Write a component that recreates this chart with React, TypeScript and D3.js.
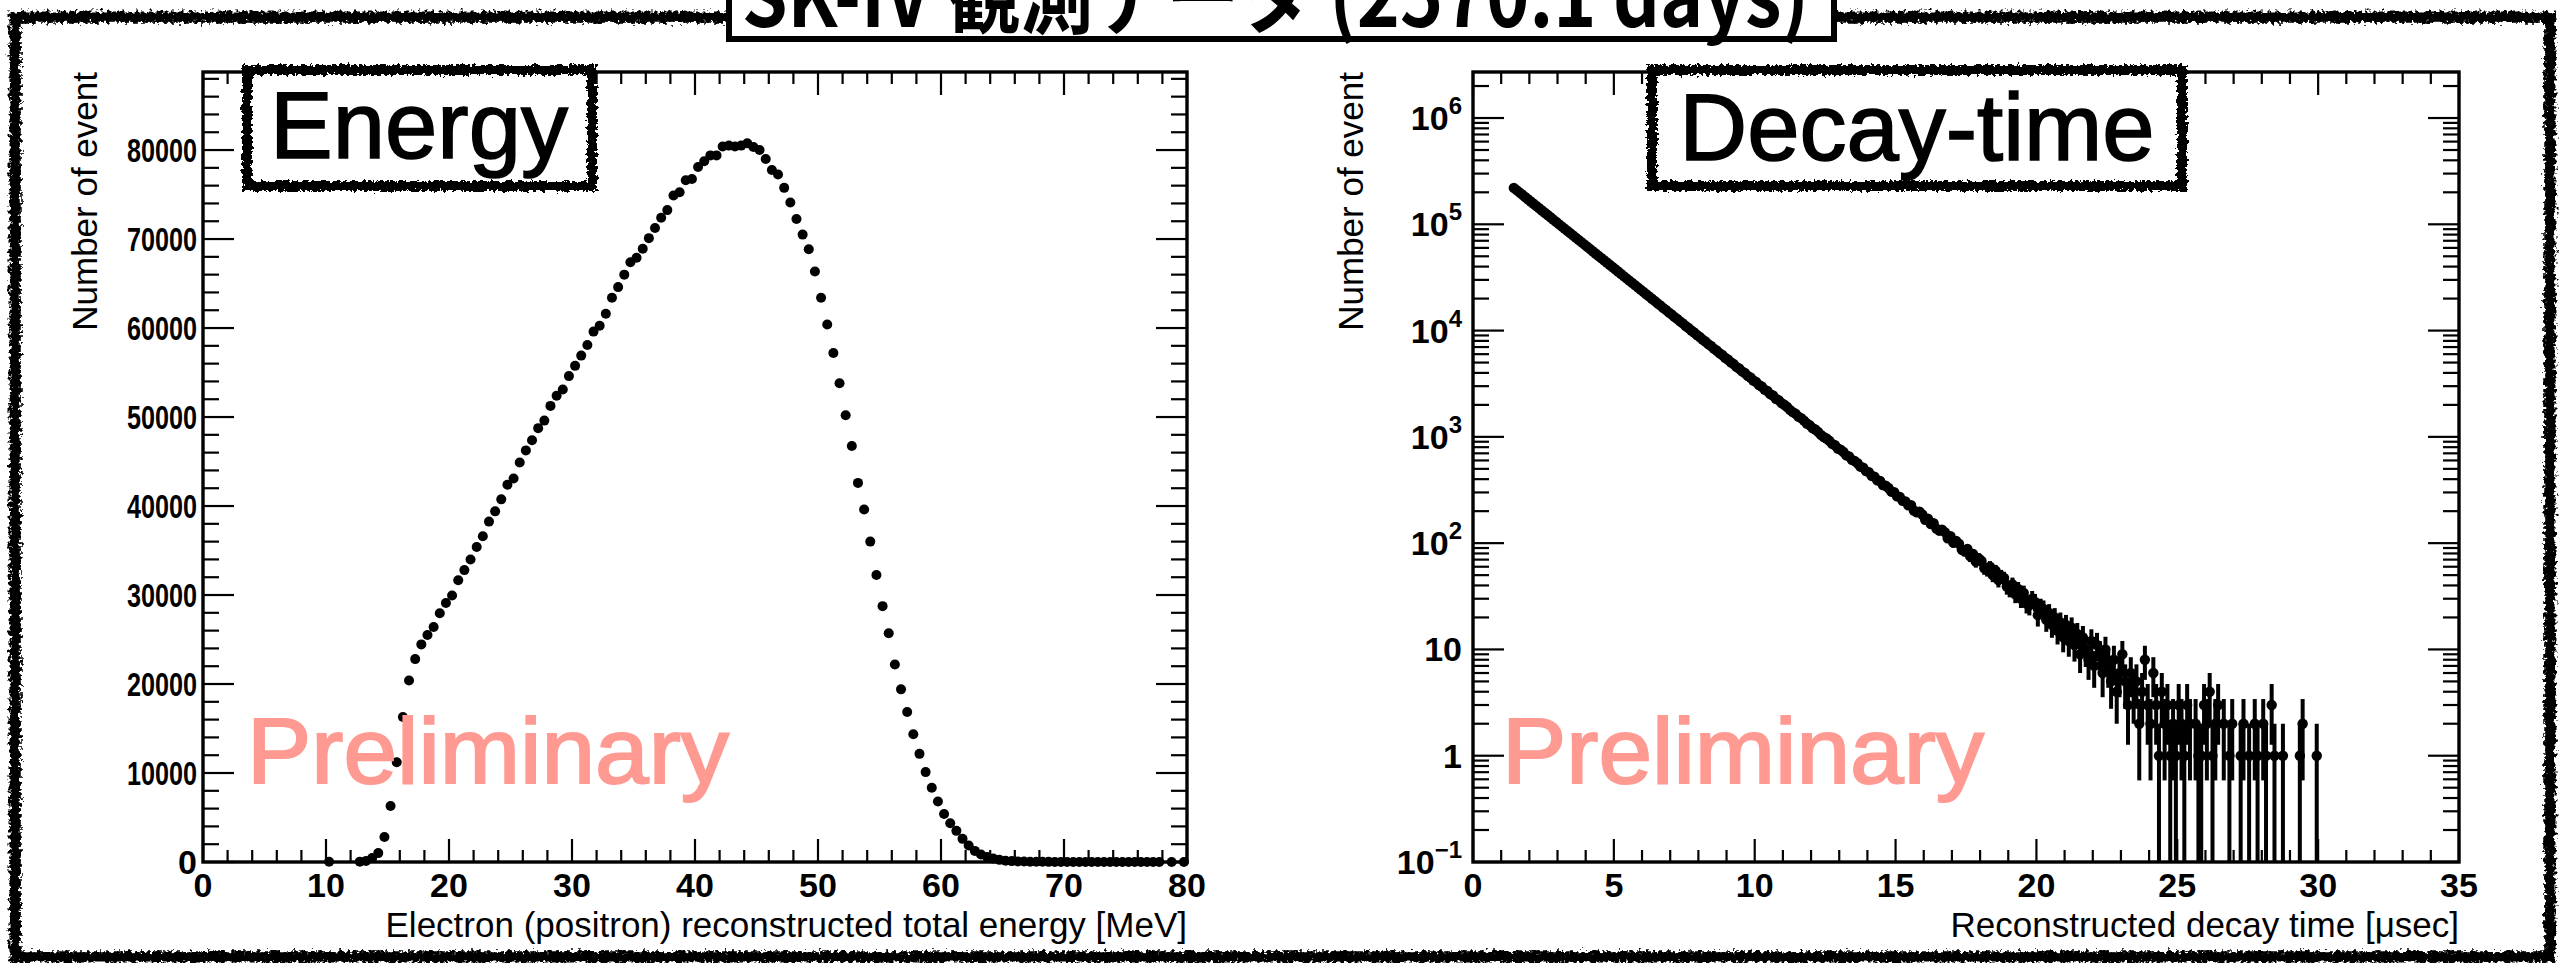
import React from 'react';
import * as d3 from 'd3';

const W = 2566;
const H = 963;
const SANS = '"Liberation Sans", Arial, Helvetica, sans-serif';

const pageTitle = 'SK-IV 観測データ (2570.1 days)';
const watermark = 'Preliminary';
const yTitle = 'Number of event';

// energy histogram, 0.5 MeV bins, first filled bin centred at 10.25 MeV
const energyFirstCentre = 10.25;
const energyBinWidth = 0.5;
const energyCounts = [
  25, 0, 0, 0, 0, 40, 120, 450, 1000, 2800, 6300, 11200,
  16300, 20400, 22800, 24450, 25500, 26400, 27950, 29100, 29950, 31650,
  32800, 34000, 35400, 36600, 38250, 39400, 40750, 42400, 43100, 44900,
  46250, 47400, 48750, 49600, 51250, 52400, 53100, 54600, 55750, 56900,
  58100, 59600, 60250, 61600, 63400, 64600, 66000, 67400, 67900, 68900,
  70100, 71250, 72400, 73250, 74900, 75250, 76600, 76750, 78100, 78750,
  79400, 79400, 80400, 80500, 80400, 80500, 80750, 80350, 80000, 79000,
  77750, 77250, 75750, 74100, 72250, 70500, 68850, 66350, 63400, 60400,
  57200, 53800, 50200, 46750, 42600, 39600, 36000, 32250, 28750, 25700,
  22200, 19400, 16850, 14350, 12150, 10100, 8350, 6800, 5400, 4350,
  3500, 2600, 1850, 1250, 850, 560, 380, 240, 150, 100,
  70, 50, 35, 25, 20, 15, 12, 10, 8, 6,
  5, 4, 4, 3, 3, 2, 2, 2, 1, 1,
  1, 1, 1, 1, 0, 1, 0, 1,
];
const energyXTicks = [0, 10, 20, 30, 40, 50, 60, 70, 80];
const energyYTicks = [0, 10000, 20000, 30000, 40000, 50000, 60000, 70000, 80000];
const energyXTitle = 'Electron (positron) reconstructed total energy [MeV]';
const energyBoxLabel = 'Energy';

// decay-time histogram, 0.1 usec bins, first bin centred at 1.45 usec
const decayFirstCentre = 1.45;
const decayBinWidth = 0.1;
const decayCounts = [
  220000, 209480, 199470, 189930, 180860, 172220, 163990, 156130, 148680, 141570,
  134820, 128350, 122230, 116380, 110810, 105510, 100470, 95680, 91100, 86750,
  82590, 78650, 74890, 71300, 67890, 64660, 61560, 58630, 55810, 53150,
  50600, 48180, 45890, 43690, 41600, 39620, 37730, 35930, 34210, 32560,
  31020, 29520, 28120, 26770, 25500, 24270, 23100,
  21970, 20990, 19910, 19040, 18050, 17260, 16370, 15650, 14830, 14190,
  13450, 12870, 12190, 11680, 11040, 10580, 10020, 9601, 9078, 8702,
  8231, 7890, 7461, 7158, 6760, 6490, 6128, 5889, 5552, 5342,
  5031, 4845, 4560, 4395, 4131, 3990, 3745, 3620, 3393, 3281,
  3075, 2979, 2785, 2702, 2523, 2451, 2285,
  2215, 2080, 2004, 1912, 1795, 1710, 1652, 1548, 1499, 1422,
  1335, 1290, 1210, 1172, 1115, 1044, 996, 966, 918, 859,
  833, 778, 757, 721, 670, 655, 608, 592, 565, 524,
  513, 476, 466, 430, 421, 391, 384, 352, 347, 330,
  305, 301, 276, 272, 250, 247, 227,
  228, 203, 195, 198, 186, 166, 170, 151, 154, 137,
  131, 134, 127, 111, 116, 101, 105, 99, 87, 84,
  88, 75, 79, 67, 72, 68, 58, 56, 60, 50,
  55, 45, 49, 47, 39, 37, 41, 33, 37, 30,
  34, 27, 26, 30, 28, 21, 25,
  24, 19, 22, 17, 20, 15, 18, 13, 17, 12,
  16, 11, 14, 9, 13, 10, 8, 12, 7, 11,
  9, 6, 10, 7, 5, 8, 4, 6, 9, 5,
  3, 6, 4, 5, 2, 4, 8, 3, 2, 6,
  3, 1, 4, 2, 3, 1, 2,
  1, 3, 2, 1, 3, 2, 0, 2, 1, 1,
  3, 2, 4, 1, 2, 3, 0, 2, 0, 1,
  2, 0, 0, 1, 2, 0, 1, 0, 2, 1,
  0, 2, 1, 0, 3, 1, 0, 0, 1, 0,
  0, 0, 0, 0, 1, 2, 0, 0, 0, 0,
  1, 0,
];
const decayXTicks = [0, 5, 10, 15, 20, 25, 30, 35];
const decayYTicks = [
  { v: 0.1, base: '10', exp: '−1' },
  { v: 1, base: '1', exp: '' },
  { v: 10, base: '10', exp: '' },
  { v: 100, base: '10', exp: '2' },
  { v: 1000, base: '10', exp: '3' },
  { v: 10000, base: '10', exp: '4' },
  { v: 100000, base: '10', exp: '5' },
  { v: 1000000, base: '10', exp: '6' },
];
const decayXTitle = 'Reconstructed decay time [μsec]';
const decayBoxLabel = 'Decay-time';

const FRAME_TOP = 72;
const FRAME_BOTTOM = 862;

const ex = d3.scaleLinear().domain([0, 80]).range([203, 1187]);
const ey = d3.scaleLinear().domain([0, 88770]).range([FRAME_BOTTOM, FRAME_TOP]);
const tx = d3.scaleLinear().domain([0, 35]).range([1473, 2459]);
const ty = d3.scaleLog().domain([0.1, 2.71e6]).range([FRAME_BOTTOM, FRAME_TOP]);

function FrameTicks({ xs, ys, xMajor, xMinor, yMajor, yMinor }: any) {
  const [x0, x1] = xs.range();
  const [y0, y1] = ys.range();
  const lines: any[] = [];
  const xt = (v: number, len: number, k: string) => {
    const x = xs(v);
    lines.push(<line key={'xb' + k} x1={x} x2={x} y1={y0} y2={y0 - len} />);
    lines.push(<line key={'xt' + k} x1={x} x2={x} y1={y1} y2={y1 + len} />);
  };
  const yt = (v: number, len: number, k: string) => {
    const y = ys(v);
    lines.push(<line key={'yl' + k} x1={x0} x2={x0 + len} y1={y} y2={y} />);
    lines.push(<line key={'yr' + k} x1={x1} x2={x1 - len} y1={y} y2={y} />);
  };
  xMajor.forEach((v: number, i: number) => xt(v, 23, 'M' + i));
  xMinor.forEach((v: number, i: number) => xt(v, 12, 'm' + i));
  yMajor.forEach((v: number, i: number) => yt(v, 31, 'M' + i));
  yMinor.forEach((v: number, i: number) => yt(v, 16, 'm' + i));
  return (
    <g stroke="#000" strokeWidth={2.2}>
      {lines}
      <rect x={x0} y={y1} width={x1 - x0} height={y0 - y1} fill="none" strokeWidth={3.4} />
    </g>
  );
}

function RoughBox({ x, y, w, h }: any) {
  return (
    <g>
      <rect x={x} y={y} width={w} height={h} fill="#fff" />
      <g filter="url(#rough2)" fill="none" stroke="#000">
        <rect x={x} y={y} width={w} height={h} strokeWidth={10} />
        <rect x={x + 3} y={y + 3} width={w - 6} height={h - 6} strokeWidth={3} />
      </g>
    </g>
  );
}

export default function App() {
  const eMinor = d3.range(0, 81, 2).filter((v) => v % 10 !== 0);
  const eYMinor = d3.range(0, 88001, 2000).filter((v) => v % 10000 !== 0);
  const tMinor = d3.range(0, 36, 1).filter((v) => v % 5 !== 0);
  const tYMinor: number[] = [];
  for (let d = -1; d <= 6; d++) {
    for (let m = 2; m <= 9; m++) {
      const v = m * Math.pow(10, d);
      if (v <= 2.71e6) tYMinor.push(v);
    }
  }

  const energyPoints = energyCounts
    .map((c, i) => ({ x: energyFirstCentre + i * energyBinWidth, c }))
    .filter((p) => p.c > 0);
  const decayPoints = decayCounts
    .map((c, i) => ({ x: decayFirstCentre + i * decayBinWidth, c }))
    .filter((p) => p.c > 0);

  const labelStyle = { fontFamily: SANS, fontWeight: 700, fontSize: 34 } as const;
  const titleStyle = { fontFamily: SANS, fontSize: 35 } as const;
  const boxText = { fontFamily: SANS, fontSize: 94 } as const;
  const markStyle = { fontFamily: SANS, fontSize: 92 } as const;

  return (
    <div style={{ position: 'absolute', left: 0, top: 0, width: W, height: H, background: '#fff' }}>
      <svg width={W} height={H} viewBox={`0 0 ${W} ${H}`}>
        <defs>
          <filter id="rough1" x="-2%" y="-2%" width="104%" height="104%">
            <feTurbulence type="fractalNoise" baseFrequency="0.28" numOctaves="3" seed="4" result="n" />
            <feDisplacementMap in="SourceGraphic" in2="n" scale="10" xChannelSelector="R" yChannelSelector="G" />
          </filter>
          <filter id="rough2" x="-5%" y="-10%" width="110%" height="120%">
            <feTurbulence type="fractalNoise" baseFrequency="0.3" numOctaves="3" seed="11" result="n" />
            <feDisplacementMap in="SourceGraphic" in2="n" scale="8" xChannelSelector="R" yChannelSelector="G" />
          </filter>
        </defs>
        <rect width={W} height={H} fill="#fff" />

        {/* outer sketchy border */}
        <g filter="url(#rough1)" fill="none" stroke="#000">
          <rect x={15} y={17} width={2535} height={940} strokeWidth={11} />
          <rect x={19} y={21} width={2527} height={932} strokeWidth={3} />
        </g>

        {/* page title box, cut by the top edge as in the original */}
        <rect x={729} y={-60} width={1105} height={99} fill="#fff" stroke="#000" strokeWidth={6} />
        <text
          x={742}
          y={27}
          textLength={1067}
          lengthAdjust="spacingAndGlyphs"
          style={{ fontFamily: '"Noto Sans CJK JP", sans-serif', fontWeight: 700, fontSize: 84 }}
        >
          {pageTitle}
        </text>

        {/* ---------- energy panel ---------- */}
        <FrameTicks xs={ex} ys={ey} xMajor={energyXTicks} xMinor={eMinor} yMajor={energyYTicks} yMinor={eYMinor} />
        {energyPoints.map((p, i) => (
          <circle key={'e' + i} cx={ex(p.x)} cy={ey(p.c)} r={5} fill="#000" />
        ))}
        {energyYTicks.map((v) => (
          <text
            key={'eyl' + v}
            x={197}
            y={ey(v) + 12}
            textAnchor="end"
            textLength={v ? 70 : undefined}
            lengthAdjust="spacingAndGlyphs"
            style={labelStyle}
          >
            {v}
          </text>
        ))}
        {energyXTicks.map((v) => (
          <text key={'exl' + v} x={ex(v)} y={897} textAnchor="middle" style={labelStyle}>
            {v}
          </text>
        ))}
        <text x={ex.range()[1]} y={937} textAnchor="end" style={titleStyle}>
          {energyXTitle}
        </text>
        <text transform={`translate(97,${FRAME_TOP}) rotate(-90)`} textAnchor="end" style={titleStyle}>
          {yTitle}
        </text>
        <text
          x={247}
          y={783}
          textLength={482}
          lengthAdjust="spacingAndGlyphs"
          fill="#ff9a92"
          stroke="#ff9a92"
          strokeWidth={2}
          style={markStyle}
        >
          {watermark}
        </text>
        <RoughBox x={247} y={70} w={345} h={116} />
        <text x={419} y={158} textAnchor="middle" stroke="#000" strokeWidth={1.6} style={boxText}>
          {energyBoxLabel}
        </text>

        {/* ---------- decay-time panel ---------- */}
        <FrameTicks xs={tx} ys={ty} xMajor={decayXTicks} xMinor={tMinor} yMajor={decayYTicks.map((d) => d.v)} yMinor={tYMinor} />
        <g stroke="#000" strokeWidth={4}>
          {decayPoints.map((p, i) => {
            const s = Math.sqrt(p.c);
            const lo = p.c - s;
            const hi = p.c + s;
            const yLo = lo > 0.1 ? ty(lo) : FRAME_BOTTOM;
            return <line key={'b' + i} x1={tx(p.x)} x2={tx(p.x)} y1={yLo} y2={ty(hi)} />;
          })}
        </g>
        {decayPoints.map((p, i) => (
          <circle key={'d' + i} cx={tx(p.x)} cy={ty(p.c)} r={5.2} fill="#000" />
        ))}
        {decayYTicks.map((d) => (
          <text key={'tyl' + d.v} x={1462} y={ty(d.v) + 12} textAnchor="end" style={labelStyle}>
            {d.base}
            {d.exp ? (
              <tspan dy={-16} fontSize={24}>
                {d.exp}
              </tspan>
            ) : null}
          </text>
        ))}
        {decayXTicks.map((v) => (
          <text key={'txl' + v} x={tx(v)} y={897} textAnchor="middle" style={labelStyle}>
            {v}
          </text>
        ))}
        <text x={tx.range()[1]} y={937} textAnchor="end" style={titleStyle}>
          {decayXTitle}
        </text>
        <text transform={`translate(1363,${FRAME_TOP}) rotate(-90)`} textAnchor="end" style={titleStyle}>
          {yTitle}
        </text>
        <text
          x={1502}
          y={783}
          textLength={482}
          lengthAdjust="spacingAndGlyphs"
          fill="#ff9a92"
          stroke="#ff9a92"
          strokeWidth={2}
          style={markStyle}
        >
          {watermark}
        </text>
        <RoughBox x={1652} y={70} w={530} h={116} />
        <text x={1917} y={160} textAnchor="middle" stroke="#000" strokeWidth={1.6} style={boxText}>
          {decayBoxLabel}
        </text>
      </svg>
    </div>
  );
}
